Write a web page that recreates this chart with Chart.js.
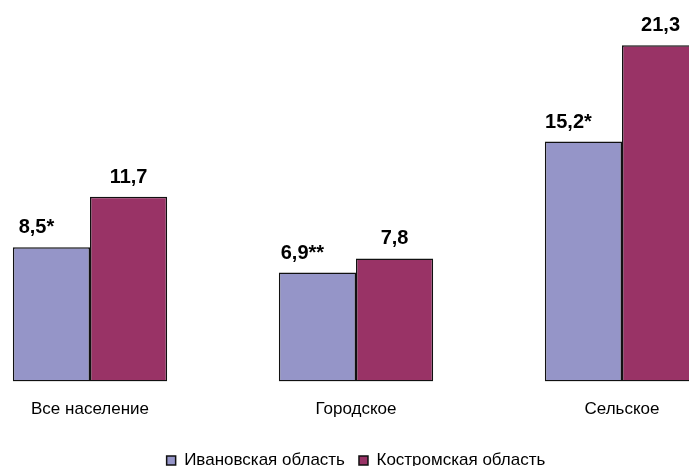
<!DOCTYPE html>
<html>
<head>
<meta charset="utf-8">
<script src="https://cdn.jsdelivr.net/npm/chart.js@4"></script>
<style>
  html, body { margin: 0; padding: 0; background: #fff; overflow: hidden; width: 689px; height: 466px; }
  #wrap { position: absolute; left: -43px; top: 0; width: 798px; height: 466px; }
</style>
</head>
<body>
<div id="wrap"><canvas id="c"></canvas></div>
<script>
const categories = ['Все население', 'Городское', 'Сельское'];
const seriesNames = ['Ивановская область', 'Костромская область'];
const ivanovo = [8.5, 6.9, 15.2];
const kostroma = [11.7, 7.8, 21.3];
const ivanovoLabels = ['8,5*', '6,9**', '15,2*'];
const kostromaLabels = ['11,7', '7,8', '21,3'];

const valueLabels = {
  id: 'valueLabels',
  afterDatasetsDraw(chart) {
    const ctx = chart.ctx;
    ctx.save();
    ctx.font = 'bold 20px "Liberation Sans", Arial, sans-serif';
    ctx.fillStyle = '#000';
    ctx.textAlign = 'center';
    ctx.textBaseline = 'alphabetic';
    chart.data.datasets.forEach((ds, di) => {
      const meta = chart.getDatasetMeta(di);
      meta.data.forEach((bar, i) => {
        const shift = di === 0 ? -15 : 0;
        ctx.fillText(ds.valueLabels[i], bar.x + shift, bar.y - 14);
      });
    });
    ctx.restore();
  }
};

new Chart(document.getElementById('c'), {
  type: 'bar',
  data: {
    labels: categories,
    datasets: [
      { label: seriesNames[0], data: ivanovo, valueLabels: ivanovoLabels,
        backgroundColor: '#9595C8', borderColor: '#111', borderWidth: 1.5, borderSkipped: false, inflateAmount: 0 },
      { label: seriesNames[1], data: kostroma, valueLabels: kostromaLabels,
        backgroundColor: '#993366', borderColor: '#111', borderWidth: 1.5, borderSkipped: false, inflateAmount: 0 }
    ]
  },
  options: {
    responsive: true,
    maintainAspectRatio: false,
    animation: false,
    devicePixelRatio: 1,
    layout: { padding: { top: 0, bottom: -13, left: 0, right: 0 } },
    datasets: { bar: { categoryPercentage: 0.58, barPercentage: 1.0 } },
    scales: {
      x: {
        grid: { display: false, drawTicks: false },
        border: { display: false },
        ticks: { color: '#000', font: { family: '"Liberation Sans", Arial, sans-serif', size: 17 }, padding: 18 }
      },
      y: {
        display: false,
        min: 0,
        max: 24.16
      }
    },
    plugins: {
      legend: {
        position: 'bottom',
        labels: {
          boxWidth: 9, boxHeight: 9, padding: 14, color: '#000',
          font: { family: '"Liberation Sans", Arial, sans-serif', size: 17 }
        }
      },
      tooltip: { enabled: false },
      title: { display: false }
    }
  },
  plugins: [valueLabels]
});
</script>
</body>
</html>
